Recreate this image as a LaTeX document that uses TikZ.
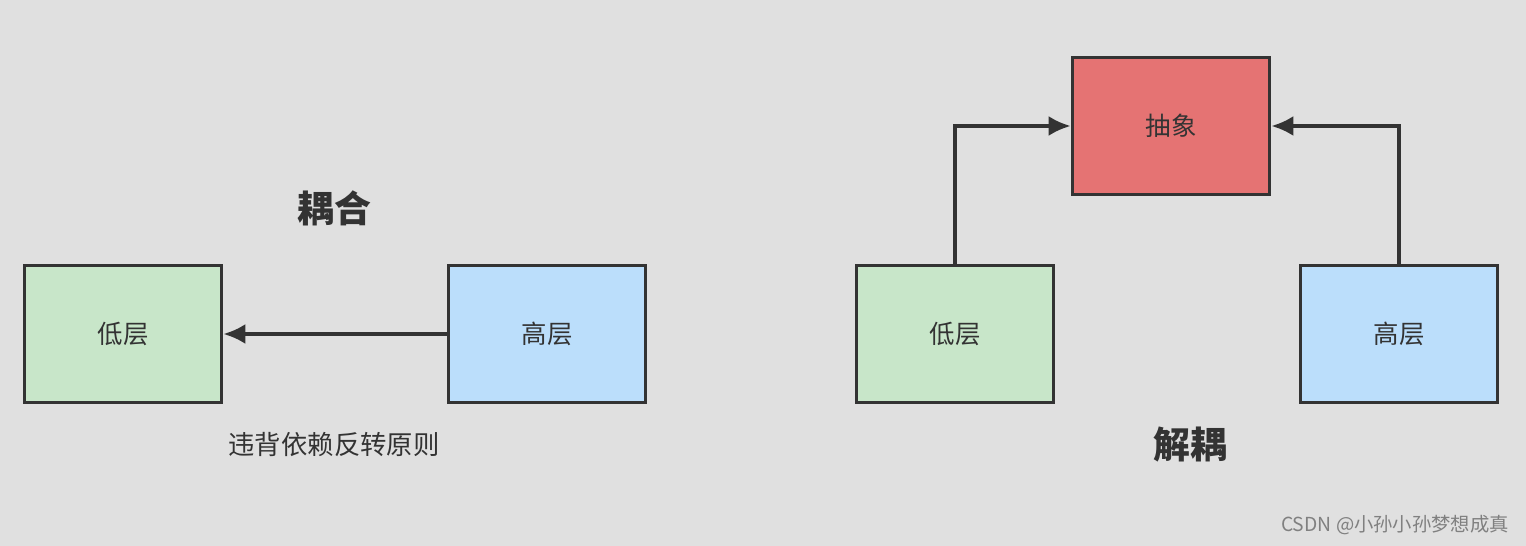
\documentclass[tikz,border=0pt]{standalone}
\usepackage{fontspec}
\setmainfont{Noto Sans CJK SC}
\usepackage{tikz}
\usetikzlibrary{arrows.meta, positioning}
\definecolor{sfondo}{HTML}{E0E0E0}
\definecolor{bordo}{HTML}{333333}
\definecolor{verde}{HTML}{C8E6C9}
\definecolor{azzurro}{HTML}{BBDEFB}
\definecolor{rosso}{HTML}{E57373}
\begin{document}
\begin{tikzpicture}[x = 0.02cm, y = -0.02cm,
    livello/.style = {draw = bordo, line width = 2.1pt, minimum width = 3.94cm, minimum height = 2.74cm, text = bordo, font = \fontsize{14.5pt}{16pt}\selectfont},
    freccia/.style = {draw = bordo, line width = 2.1pt, -{Latex[length = 0.44cm, width = 0.4cm]}},
    titolo/.style = {text = bordo, font = \fontsize{21pt}{24pt}\selectfont\bfseries}]
    % Sfondo
    \fill[sfondo] (0,0) rectangle (1526,546);
    % Accoppiamento
    \node[livello, fill = verde] (basso) at (123,334) {低层};
    \node[livello, fill = azzurro] (alto) at (547,334) {高层};
    \draw[freccia] (alto) -- (basso);
    \node[titolo] (accoppiamento) at (334,208) {耦合};
    \node[text = bordo, font = \fontsize{15pt}{16pt}\selectfont] (principio) at (334,445) {违背依赖反转原则};
    % Disaccoppiamento
    \node[livello, fill = verde] (basso2) at (955,334) {低层};
    \node[livello, fill = azzurro] (alto2) at (1399,334) {高层};
    \node[livello, fill = rosso] (astratto) at (1171,126) {抽象};
    \draw[freccia] (basso2.north) |- (astratto.west);
    \draw[freccia] (alto2.north) |- (astratto.east);
    \node[titolo] (disaccoppiamento) at (1190,445) {解耦};
    % Firma
    \node[text = gray, font = \fontsize{11pt}{12pt}\selectfont] (firma) at (1395,525) {CSDN @小孙小孙梦想成真};
\end{tikzpicture}
\end{document}
